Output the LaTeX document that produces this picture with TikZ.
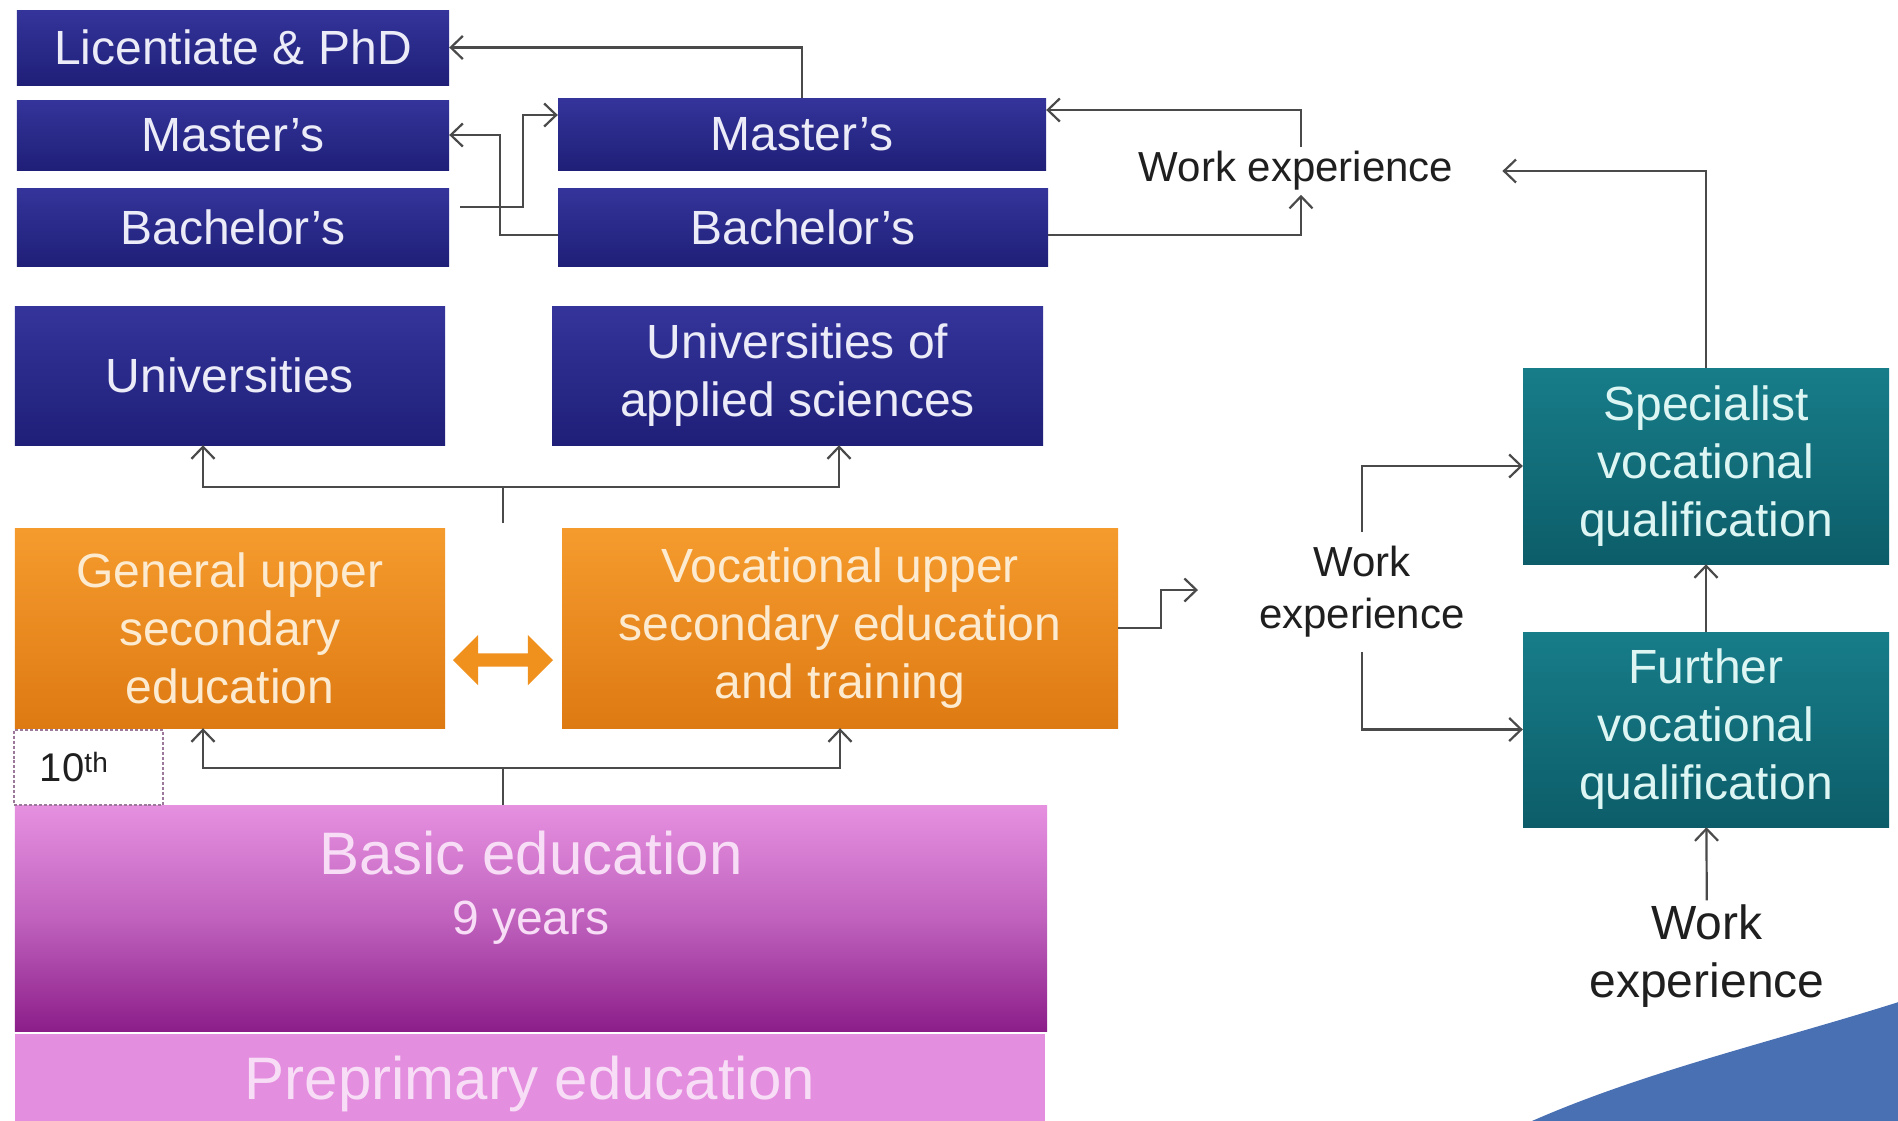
\documentclass[tikz,border=0pt]{standalone}
\usepackage{fontspec}
\setmainfont{Liberation Sans}
\usepackage{xcolor}
\usepackage{tikz}
\usetikzlibrary{arrows.meta, shapes.arrows}
\definecolor{navytop}{HTML}{34349B}
\definecolor{navybot}{HTML}{1F1F78}
\definecolor{navytxt}{HTML}{ECECF8}
\definecolor{orangetop}{HTML}{F59B2E}
\definecolor{orangebot}{HTML}{DE7A12}
\definecolor{orangetxt}{HTML}{FCEBD0}
\definecolor{swaporange}{HTML}{F0911E}
\definecolor{tealtop}{HTML}{177D89}
\definecolor{tealbot}{HTML}{0C5D69}
\definecolor{tealtxt}{HTML}{DDF6F4}
\definecolor{basictop}{HTML}{E690E0}
\definecolor{basicmid}{HTML}{C062BE}
\definecolor{basicbot}{HTML}{8C1E8A}
\definecolor{preprim}{HTML}{E48EDF}
\definecolor{pinktxt}{HTML}{F8DDF6}
\definecolor{tenthline}{HTML}{9C789A}
\definecolor{linegray}{HTML}{4A4A4A}
\definecolor{swoosh}{HTML}{4A70B4}
\newcommand{\bigtxt}{\fontsize{48bp}{58bp}\selectfont}
\newcommand{\hugetxt}{\fontsize{60bp}{66bp}\selectfont}
\newcommand{\worktxt}{\fontsize{42bp}{52bp}\selectfont}

\begin{document}
\begin{tikzpicture}[x=1bp, y=-1bp, >={Straight Barb[length=12bp, width=23bp]}]
\tikzstyle{degree}=[rectangle, inner sep=0pt, align=center, font=\bigtxt,
                    text=navytxt, top color=navytop, bottom color=navybot]
\tikzstyle{upper}=[rectangle, inner sep=0pt, align=center, font=\bigtxt,
                   text=orangetxt, top color=orangetop, bottom color=orangebot]
\tikzstyle{qualif}=[rectangle, inner sep=0pt, align=center, font=\bigtxt,
                    text=tealtxt, top color=tealtop, bottom color=tealbot]
\tikzstyle{work}=[inner sep=4bp, align=center, font=\worktxt, text=black!88]
\tikzstyle{plain}=[draw=linegray, line width=2.2bp]
\tikzstyle{link}=[->, draw=linegray, line width=2.2bp]
  \useasboundingbox (0,0) rectangle (1898,1120);
  \fill[white] (0,0) rectangle (1898,1120);
  \fill[swoosh] (1523,1125) .. controls (1640,1072) and (1780,1040) .. (1905,1000)
                -- (1905,1125) -- cycle;
  % degrees
  \node[degree, minimum width=432bp, minimum height=75bp] (lic)   at (233,47.5) {Licentiate \& PhD};
  \node[degree, minimum width=432bp, minimum height=70bp] (mastL) at (233,135)  {Master's};
  \node[degree, minimum width=432bp, minimum height=78bp] (bachL) at (233,227)  {Bachelor's};
  \node[degree, minimum width=488bp, minimum height=72bp] (mastR) at (802,134)  {Master's};
  \node[degree, minimum width=490bp, minimum height=78bp] (bachR) at (803,227)  {Bachelor's};
  \node[degree, minimum width=430bp, minimum height=139bp] (uni) at (230,375.5) {Universities};
  \node[degree, minimum width=491bp, minimum height=139bp] (uas) at (797.5,375.5)
                            {Universities of\\applied sciences};
  % upper secondary
  \node[upper, minimum width=430bp, minimum height=200bp] (gen) at (230,628)
                            {General upper\\secondary\\education};
  \node[upper, minimum width=556bp, minimum height=200bp] (voc) at (840,628)
                            {Vocational upper\\secondary education\\and training};
  \node[double arrow, fill=swaporange, inner sep=6.5bp, double arrow head extend=18.5bp,
        minimum height=100bp] (swap) at (503,660) {};
  % basic
  \node[rectangle, minimum width=1032bp, minimum height=226bp, top color=basictop,
        bottom color=basicbot, middle color=basicmid] (basic) at (531,918) {};
  \node[font=\hugetxt, text=pinktxt, align=center] (basictxt) at (531,888)
                            {Basic education\\[-6bp]{\bigtxt 9 years}};
  \node[rectangle, minimum width=1030bp, minimum height=100bp, fill=preprim,
        font=\hugetxt, text=pinktxt] (prep) at (530,1084) {Preprimary education};
  \node[rectangle, draw=tenthline, densely dashed, line width=1.2bp, fill=white,
        minimum width=149bp, minimum height=75bp, inner xsep=26bp, text width=97bp,
        align=left, font=\fontsize{40bp}{42bp}\selectfont, text=black!88] (tenth)
        at (88.5,767.5) {10\textsuperscript{th}};
  % vocational qualifications
  \node[qualif, minimum width=366bp, minimum height=196bp] (spec) at (1706,466)
                            {Specialist\\vocational\\qualification};
  \node[qualif, minimum width=366bp, minimum height=195bp] (furth) at (1706,729.5)
                            {Further\\vocational\\qualification};
  \node[work] (weTop) at (1296,171) {Work experience};
  \node[work, inner ysep=14bp] (weMid) at (1362,592) {Work\\experience};
  \node[work, font=\bigtxt] (weBot) at (1707,956) {Work\\experience};
  \coordinate (upfork)  at (503,487);
  \coordinate (upstub)  at (503,523);
  \coordinate (lowfork) at (503,768);
  \coordinate (vocout)  at (1198,590);
  % connectors
  \draw[link] (mastR.north) |- (lic.east);
  \draw[link] ([yshift=-8bp]bachR.west) -- ++(-58,0) |- (mastL.east);
  \draw[link] ([xshift=11bp, yshift=20bp]bachL.east) -- ++(63,0) |- ([yshift=19bp]mastR.west);
  \draw[link] ([yshift=-8bp]bachR.east) -| ([xshift=5bp]weTop.south);
  \draw[link] ([xshift=5bp]weTop.north) |- ([yshift=24bp]mastR.east);
  \draw[link] (spec.north) |- ([xshift=45bp]weTop.east);
  \draw[plain] (upstub) -- (upfork);
  \draw[link] (upfork) -| ([xshift=-27bp]uni.south);
  \draw[link] (upfork) -| ([xshift=41.5bp]uas.south);
  \draw[plain] (basic.north -| lowfork) -- (lowfork);
  \draw[link] (lowfork) -| ([xshift=-27bp]gen.south);
  \draw[link] (lowfork) -| (voc.south);
  \draw[link] (voc.east) -- ++(43,0) |- (vocout);
  \draw[link] (weMid.north) |- (spec.west);
  \draw[link] (weMid.south) |- (furth.west);
  \draw[link] (furth) -- (spec);
  \draw[link] (weBot) -- (furth);
\end{tikzpicture}
\end{document}
